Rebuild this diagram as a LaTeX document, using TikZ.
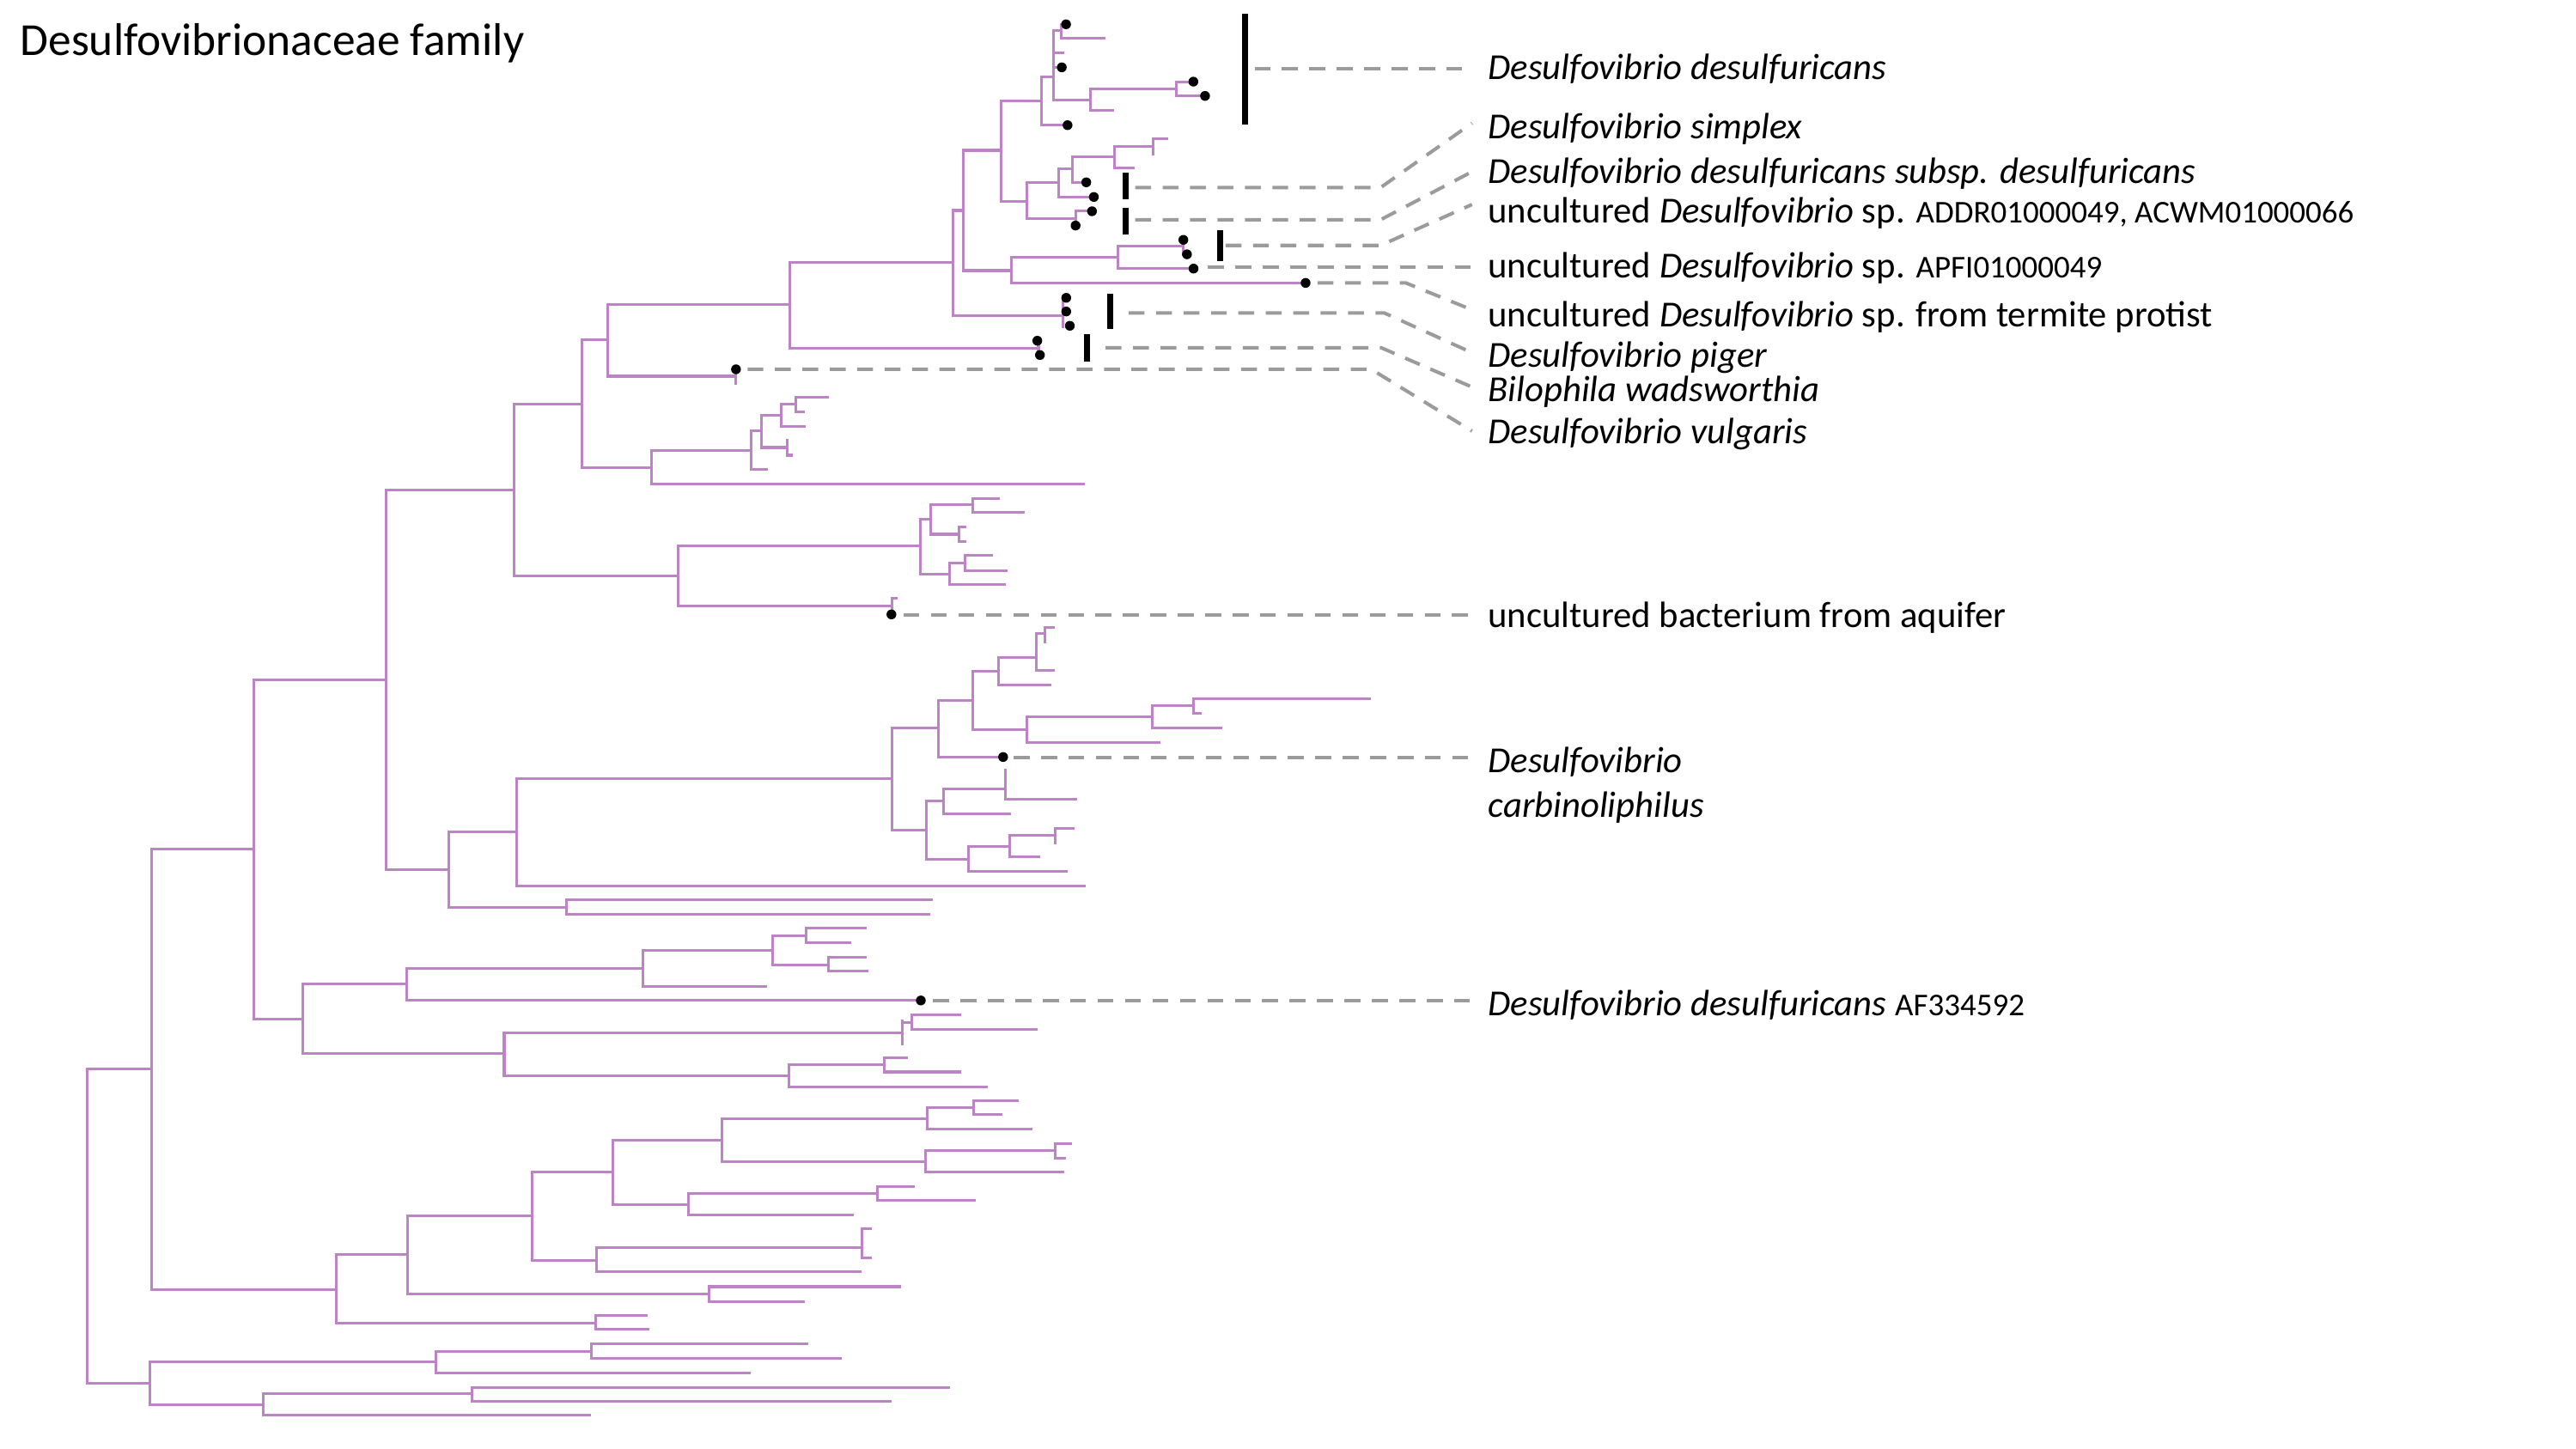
\documentclass[tikz,border=0pt]{standalone}
\usepackage{fontspec}
\setmainfont{Carlito}
\definecolor{brc}{RGB}{188,132,196}
\definecolor{ldc}{RGB}{155,155,155}
\newcommand\brV[3]{\draw[branch] (#1,#2) -- (#1,#3);}
\newcommand\brH[3]{\draw[branch] (#2,#1) -- (#3,#1);}
\newcommand\tipdot[2]{\fill (#1,#2) circle (1.7pt);}
\newcommand\lbar[3]{\draw[cladebar] (#1,#2) -- (#1,#3);}
\begin{document}
\begin{tikzpicture}[x=0.02cm,y=-0.02cm,
  branch/.style={draw=brc,line width=0.9pt,line cap=rect},
  cladebar/.style={draw=black,line width=2pt},
  lead/.style={draw=ldc,line width=1.2pt,dash pattern=on 5.5pt off 4pt},
  lab/.style={anchor=base west,inner sep=0pt,font=\fontsize{12.7}{15}\selectfont},
  acc/.style={}]
\useasboundingbox (0,0) rectangle (1568,882);
\newcommand\accf{\fontsize{11}{13}\selectfont}
% title
\node[anchor=base west,inner sep=0pt,font=\fontsize{15.9}{19}\selectfont] (title) at (12,33.5) {Desulfovibrionaceae family};
% ---------- backbone ----------
\brV{53.3}{650.9}{842}
\brH{650.9}{53.3}{92.3}
\brH{842}{53.3}{91}
\brV{92.3}{516.9}{785.2}
\brH{516.9}{92.3}{154.6}
\brH{785.2}{92.3}{204.6}
\brV{154.6}{413.8}{620.2}
\brH{413.8}{154.6}{235}
\brH{620.2}{154.6}{184.3}
\brV{235}{298.4}{529.6}
\brH{298.4}{235}{313}
\brH{529.6}{235}{273.1}
\brV{313}{246.1}{350.7}
\brH{246.1}{313}{354.3}
\brH{350.7}{313}{412.7}
\brV{354.3}{207}{284.6}
\brH{207}{354.3}{370}
\brH{284.6}{354.3}{396.4}
\brV{370}{185.6}{229}
\brH{185.6}{370}{481}
\brH{229}{370}{448}
\brV{448}{224.8}{233.5}
% clade 396
\brV{396.4}{274.2}{294.5}
\brH{294.5}{396.4}{659.7}
\brH{274.2}{396.4}{457.2}
\brV{457.2}{262.3}{285.8}
\brH{285.8}{457.2}{466.5}
\brH{262.3}{457.2}{463.6}
\brV{463.6}{252.7}{272.4}
\brH{252.7}{463.6}{475.6}
\brH{272.4}{463.6}{479.1}
\brV{475.6}{246.1}{259.7}
\brH{246.1}{475.6}{484.4}
\brH{259.7}{475.6}{489.8}
\brV{484.4}{241.9}{250.6}
\brH{241.9}{484.4}{503.9}
\brH{250.6}{484.4}{489.2}
\brV{479.1}{268}{277.1}
\brH{277.1}{479.1}{481.7}
% clade 412
\brV{412.7}{332.4}{368.8}
\brH{332.4}{412.7}{560.4}
\brH{368.8}{412.7}{543}
\brV{543}{364.3}{373.3}
\brH{364.3}{543}{545.8}
\brV{560.4}{315.8}{349.4}
\brH{315.8}{560.4}{566.6}
\brH{349.4}{560.4}{577.8}
\brV{566.6}{307.1}{325.2}
\brH{307.1}{566.6}{591.9}
\brH{325.2}{566.6}{583.7}
\brV{591.9}{303.3}{312}
\brH{303.3}{591.9}{608}
\brH{312}{591.9}{623.1}
\brV{583.7}{320.7}{329.7}
\brH{320.7}{583.7}{587.2}
\brH{329.7}{583.7}{587.2}
\brV{577.8}{342.5}{355.9}
\brH{342.5}{577.8}{587.2}
\brH{355.9}{577.8}{611.2}
\brV{587.2}{338.1}{347.2}
\brH{338.1}{587.2}{603.7}
\brH{347.2}{587.2}{612.5}
% clade 273
\brV{273.1}{506.6}{552.3}
\brH{506.6}{273.1}{314.6}
\brH{552.3}{273.1}{344.6}
\brV{314.6}{473.9}{539.3}
\brH{473.9}{314.6}{543.1}
\brH{539.3}{314.6}{659.9}
\brV{344.6}{547.7}{556.6}
\brH{547.7}{344.6}{567.1}
\brH{556.6}{344.6}{565.2}
% carbinoliphilus clade
\brV{543.1}{443.1}{505.3}
\brH{443.1}{543.1}{571.4}
\brH{505.3}{543.1}{563.9}
\brV{571.4}{426.3}{460.8}
\brH{426.3}{571.4}{591.9}
\brH{460.8}{571.4}{610.6}
\brV{591.9}{408.6}{444.4}
\brH{408.6}{591.9}{608}
\brH{444.4}{591.9}{624.8}
\brV{608}{400.2}{417}
\brH{400.2}{608}{630.6}
\brH{417}{608}{639.1}
\brV{630.6}{385.8}{408.2}
\brH{385.8}{630.6}{636}
\brH{408.2}{630.6}{641.3}
\brV{636}{382}{390.8}
\brH{382}{636}{641.3}
\brV{624.8}{436.2}{451.9}
\brH{436.2}{624.8}{701.3}
\brH{451.9}{624.8}{705.3}
\brV{701.3}{429.5}{443.1}
\brH{429.5}{701.3}{726.7}
\brH{443.1}{701.3}{743.2}
\brV{726.7}{425.4}{434.3}
\brH{425.4}{726.7}{833.9}
\brH{434.3}{726.7}{730.6}
\brV{563.9}{487.6}{522.9}
\brH{487.6}{563.9}{574.1}
\brH{522.9}{563.9}{589.3}
\brV{574.1}{480.1}{495.4}
\brH{480.1}{574.1}{611.9}
\brH{495.4}{574.1}{614.6}
\brV{611.9}{468.7}{486.6}
\brH{486.6}{611.9}{654.6}
\brV{589.3}{515}{530.3}
\brH{515}{589.3}{614.6}
\brH{530.3}{589.3}{649.3}
\brV{614.6}{508.5}{521.5}
\brH{508.5}{614.6}{642.1}
\brH{521.5}{614.6}{632.2}
\brV{642.1}{504.2}{513.1}
\brH{504.2}{642.1}{653.3}
% clade 184
\brV{184.3}{599}{641.5}
\brH{599}{184.3}{247.6}
\brH{641.5}{184.3}{306.9}
\brV{247.6}{589.3}{609}
\brH{589.3}{247.6}{391.5}
\brH{609}{247.6}{560.5}
\brV{391.5}{578.3}{600.6}
\brH{578.3}{391.5}{470.4}
\brH{600.6}{391.5}{466.1}
\brV{470.4}{569.7}{587.2}
\brH{569.7}{470.4}{490.8}
\brH{587.2}{470.4}{504.2}
\brV{490.8}{565.1}{573.9}
\brH{565.1}{490.8}{526.8}
\brH{573.9}{490.8}{517.2}
\brV{504.2}{582.6}{591.2}
\brH{582.6}{504.2}{526.8}
\brH{591.2}{504.2}{527.6}
\brV{306.9}{628.5}{654.9}
\brH{628.5}{306.9}{549.3}
\brH{654.9}{306.9}{480.4}
\brV{549.3}{621.6}{635.5}
\brH{622.4}{549.3}{555}
\brV{555}{617.5}{626.5}
\brH{617.5}{555}{584}
\brH{626.5}{555}{630.8}
\brV{480.4}{648.1}{661.5}
\brH{648.1}{480.4}{538.5}
\brH{661.5}{480.4}{600.4}
\brV{538.5}{643.7}{652.5}
\brH{643.7}{538.5}{551.9}
\brH{652.5}{538.5}{584}
% clade 204
\brV{204.6}{763.8}{805.2}
\brH{763.8}{204.6}{248}
\brH{805.2}{204.6}{362.4}
\brV{248}{739.9}{787.8}
\brH{739.9}{248}{323.9}
\brH{787.8}{248}{431.4}
\brV{323.9}{713.3}{767.2}
\brH{713.3}{323.9}{372.9}
\brH{767.2}{323.9}{362.9}
\brV{372.9}{694}{733.3}
\brH{694}{372.9}{439.2}
\brH{733.3}{372.9}{419.2}
\brV{439.2}{680.8}{707.2}
\brH{680.8}{439.2}{564.5}
\brH{707.2}{439.2}{563.6}
\brV{564.5}{674.2}{687.4}
\brH{674.2}{564.5}{592.7}
\brH{687.4}{564.5}{627.8}
\brV{592.7}{669.8}{678.6}
\brH{669.8}{592.7}{619.1}
\brH{678.6}{592.7}{609.1}
\brV{563.6}{700.4}{713.5}
\brH{700.4}{563.6}{642.5}
\brH{713.5}{563.6}{646.9}
\brV{642.5}{696.2}{705}
\brH{696.2}{642.5}{651.6}
\brH{705}{642.5}{648.1}
\brV{419.2}{726.7}{739.7}
\brH{726.7}{419.2}{534.1}
\brH{739.7}{419.2}{518.9}
\brV{534.1}{722.1}{730.7}
\brH{722.1}{534.1}{555.8}
\brH{730.7}{534.1}{593.1}
\brV{362.9}{759.2}{774.2}
\brH{759.2}{362.9}{524.6}
\brH{774.2}{362.9}{523.7}
\brV{524.6}{747.9}{765.8}
\brH{747.9}{524.6}{529.8}
\brH{765.8}{524.6}{529.8}
\brV{431.4}{783.2}{792.2}
\brH{783.2}{431.4}{547.6}
\brH{792.2}{431.4}{489}
\brV{362.4}{800.8}{809.3}
\brH{800.8}{362.4}{393.6}
\brH{809.3}{362.4}{394.5}
% bottom clade
\brV{91}{829.1}{855}
\brH{829.1}{91}{265.3}
\brH{855}{91}{160.4}
\brV{265.3}{822.5}{835.5}
\brH{822.5}{265.3}{359.8}
\brH{835.5}{265.3}{456.1}
\brV{359.8}{818.1}{826.9}
\brH{818.1}{359.8}{491.2}
\brH{826.9}{359.8}{511.6}
\brV{160.4}{848.4}{861.6}
\brH{848.4}{160.4}{287.4}
\brH{861.6}{160.4}{359}
\brV{287.4}{844.5}{853}
\brH{844.5}{287.4}{577.5}
\brH{853}{287.4}{541.9}
% top clade
\brV{481}{159.5}{211.8}
\brH{159.5}{481}{580.3}
\brH{211.8}{481}{632.1}
\brV{632.1}{207.4}{216.1}
\brV{580.3}{128.1}{192.2}
\brH{128.1}{580.3}{586.2}
\brH{192.2}{580.3}{646.8}
\brV{646.8}{181.3}{198.7}
\brV{586.2}{91.5}{164.7}
\brH{91.5}{586.2}{609.4}
\brH{164.7}{586.2}{615.8}
\brV{615.8}{156.5}{172.2}
\brH{156.5}{615.8}{680.3}
\brH{172.2}{615.8}{794.7}
\brV{680.3}{149.9}{163.5}
\brH{149.9}{680.3}{720.2}
\brH{163.5}{680.3}{726.5}
\brV{720.2}{146}{154.8}
\brV{609.4}{61.3}{122.5}
\brH{61.3}{609.4}{633.7}
\brH{122.5}{609.4}{625.1}
\brV{633.7}{46.7}{76.2}
\brH{46.7}{633.7}{641.4}
\brH{76.2}{633.7}{649.8}
\brV{641.4}{18.8}{61}
\brH{18.8}{641.4}{646}
\brH{32.2}{641.4}{646.8}
\brH{41}{641.4}{646.3}
\brH{61}{641.4}{663.5}
\brV{646}{14.8}{23.5}
\brH{23.5}{646}{672.2}
\brV{663.5}{54}{67.1}
\brH{54}{663.5}{716}
\brH{67.1}{663.5}{677.5}
\brV{716}{49.7}{58.4}
\brH{49.7}{716}{726.4}
\brH{58.4}{716}{733.5}
\brV{625.1}{111}{133.3}
\brH{111}{625.1}{644.4}
\brH{133.3}{625.1}{654.7}
\brV{644.4}{102.8}{119.9}
\brH{102.8}{644.4}{652.6}
\brH{119.9}{644.4}{665.8}
\brV{652.6}{95.3}{111}
\brH{95.3}{652.6}{678.2}
\brH{111}{652.6}{661.2}
\brV{678.2}{88.9}{102}
\brH{88.9}{678.2}{702}
\brH{102}{678.2}{689.8}
\brV{702}{84.5}{93.6}
\brH{84.5}{702}{710.1}
\brV{654.7}{128.6}{137.3}
\brH{128.6}{654.7}{664.7}
% ---------- tip dots ----------
\tipdot{648.9}{14.8}
\tipdot{646.3}{41}
\tipdot{649.8}{76.2}
\tipdot{726.4}{49.7}
\tipdot{733.5}{58.4}
\tipdot{661.2}{111}
\tipdot{665.8}{119.9}
\tipdot{664.7}{128.6}
\tipdot{654.7}{137.3}
\tipdot{720.3}{146}
\tipdot{722.5}{154.8}
\tipdot{726.5}{163.5}
\tipdot{794.7}{172.2}
\tipdot{649}{181.3}
\tipdot{649}{189.6}
\tipdot{651.2}{198.3}
\tipdot{631.4}{207.4}
\tipdot{633}{216.1}
\tipdot{448}{224.8}
\tipdot{542.6}{374}
\tipdot{610.6}{460.8}
\tipdot{560.5}{609}
% ---------- clade bars ----------
\lbar{758}{8.2}{75.8}
\lbar{685}{104.9}{121.1}
\lbar{685}{126.4}{142.6}
\lbar{742.8}{140.3}{159.1}
\lbar{675.9}{178.6}{200.1}
\lbar{661.7}{203.6}{219.9}
% ---------- labels ----------
\node[lab] (l1) at (905.5,48.5) {\textit{Desulfovibrio desulfuricans}};
\node[lab] (l2) at (905.5,84.5) {\textit{Desulfovibrio simplex}};
\node[lab] (l3) at (905.5,111.7) {\textit{Desulfovibrio desulfuricans subsp. desulfuricans}};
\node[lab] (l4) at (905.5,135.9) {uncultured \textit{Desulfovibrio} sp. {\accf ADDR01000049, ACWM01000066}};
\node[lab] (l5) at (905.5,169) {uncultured \textit{Desulfovibrio} sp. {\accf APFI01000049}};
\node[lab] (l6) at (905.5,198.9) {uncultured \textit{Desulfovibrio} sp. from termite protist};
\node[lab] (l7) at (905.5,223.5) {\textit{Desulfovibrio piger}};
\node[lab] (l8) at (905.5,244.6) {\textit{Bilophila wadsworthia}};
\node[lab] (l9) at (905.5,270.2) {\textit{Desulfovibrio vulgaris}};
\node[lab] (l10) at (905.5,382) {uncultured bacterium from aquifer};
\node[lab] (l11) at (905.5,470.2) {\textit{Desulfovibrio}};
\node[lab] (l11b) at (905.5,497.3) {\textit{carbinoliphilus}};
\node[lab] (l12) at (905.5,618.3) {\textit{Desulfovibrio desulfuricans} {\accf AF334592}};
% ---------- leader lines ----------
\draw[lead] (763.6,41.8) -- (893,41.8);
\draw[lead] (691,114.2) -- (840.3,114.2) -- (896,75);
\draw[lead] (691,133.8) -- (840.3,133.8) -- (896,104.5);
\draw[lead] (746,149.4) -- (840.3,149.4) -- (896,124.5);
\draw[lead] (735.3,162.8) -- (900,162.8);
\draw[lead] (802,172.2) -- (855.7,172.2) -- (896,188.6);
\draw[lead] (687,190.5) -- (842.6,190.5) -- (896,214.7);
\draw[lead] (673,211.7) -- (840.8,211.7) -- (896,235.6);
\draw[lead] (455,224.8) -- (834.7,224.8) -- (896,262.4);
\draw[lead] (550,374.2) -- (898,374.2);
\draw[lead] (617,461.3) -- (898,461.3);
\draw[lead] (568,609.2) -- (898,609.2);
\end{tikzpicture}
\end{document}
